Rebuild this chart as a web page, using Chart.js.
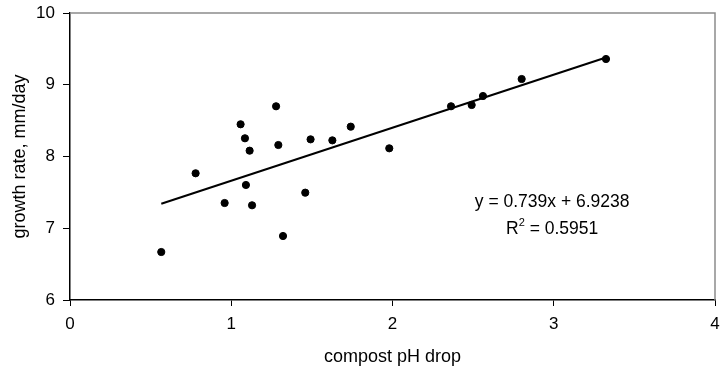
<!DOCTYPE html>
<html>
<head>
<meta charset="utf-8">
<script src="https://cdn.jsdelivr.net/npm/chart.js@4"></script>
<style>
  html, body { margin: 0; padding: 0; background: #fff; }
  #wrap { width: 721px; height: 374px; position: relative; }
</style>
</head>
<body>
<div id="wrap"><canvas id="phChart"></canvas></div>
<script>
// compost pH drop vs growth rate
const phDrop = [0.566, 0.779, 0.959, 1.058, 1.085, 1.091, 1.114, 1.129, 1.278, 1.292, 1.321,
                1.459, 1.492, 1.627, 1.741, 1.980, 2.363, 2.491, 2.561, 2.801, 3.324];
const growthRate = [6.669, 7.766, 7.352, 8.449, 8.254, 7.603, 8.081, 7.320, 8.700, 8.160, 6.892,
                    7.496, 8.239, 8.225, 8.416, 8.114, 8.700, 8.718, 8.843, 9.080, 9.359];

// linear trendline as printed on the chart
const trendSlope = 0.739;
const trendIntercept = 6.9238;
const trendR2 = '0.5951';

const xTicks = [0, 1, 2, 3, 4];
const yTicks = [6, 7, 8, 9, 10];

const fontFamily = '"Liberation Sans", Arial, sans-serif';

document.addEventListener('DOMContentLoaded', function() {
    const points = phDrop.map(function(x, i) { return { x: x, y: growthRate[i] }; });
    const xMin = Math.min.apply(null, phDrop);
    const xMax = Math.max.apply(null, phDrop);
    const trendPoints = [xMin, xMax].map(function(x) {
        return { x: x, y: trendSlope * x + trendIntercept };
    });

    // gray frame on top/right of the plot area, like the original
    const framePlugin = {
        id: 'frame',
        beforeDatasetsDraw: function(chart) {
            const a = chart.chartArea;
            const ctx = chart.ctx;
            ctx.save();
            ctx.strokeStyle = '#8c8c8c';
            ctx.lineWidth = 1.5;
            ctx.beginPath();
            ctx.moveTo(a.left, a.top);
            ctx.lineTo(a.right, a.top);
            ctx.lineTo(a.right, a.bottom);
            ctx.stroke();
            ctx.restore();
        }
    };

    // trendline equation label
    const equationPlugin = {
        id: 'equation',
        afterDatasetsDraw: function(chart) {
            const ctx = chart.ctx;
            const cx = chart.scales.x.getPixelForValue(2.99);
            const cy = chart.scales.y.getPixelForValue(7.37);
            ctx.save();
            ctx.fillStyle = '#000';
            ctx.textBaseline = 'middle';
            ctx.font = '17.5px ' + fontFamily;
            ctx.textAlign = 'center';
            ctx.fillText('y = ' + trendSlope + 'x + ' + trendIntercept, cx, cy);

            // R² line with a real superscript
            const y2 = cy + 27;
            const rW = ctx.measureText('R').width;
            const tail = ' = ' + trendR2;
            const tailW = ctx.measureText(tail).width;
            ctx.font = '11px ' + fontFamily;
            const supW = ctx.measureText('2').width;
            const total = rW + supW + tailW;
            let x0 = cx - total / 2;
            ctx.textAlign = 'left';
            ctx.font = '17.5px ' + fontFamily;
            ctx.fillText('R', x0, y2);
            ctx.font = '11px ' + fontFamily;
            ctx.fillText('2', x0 + rW, y2 - 6);
            ctx.font = '17.5px ' + fontFamily;
            ctx.fillText(tail, x0 + rW + supW, y2);
            ctx.restore();
        }
    };

    const ctx = document.getElementById('phChart').getContext('2d');
    new Chart(ctx, {
        type: 'scatter',
        data: {
            datasets: [{
                label: 'growth rate',
                data: points,
                backgroundColor: '#000',
                borderColor: '#000',
                pointRadius: 3.6,
                pointHoverRadius: 3.6,
                order: 1
            }, {
                label: 'trend',
                type: 'line',
                data: trendPoints,
                borderColor: '#000',
                borderWidth: 2,
                pointRadius: 0,
                fill: false,
                order: 2
            }]
        },
        options: {
            responsive: true,
            maintainAspectRatio: false,
            animation: false,
            events: [],
            layout: { padding: { top: 13, right: 6, left: 0, bottom: 0 } },
            plugins: {
                legend: { display: false },
                tooltip: { enabled: false }
            },
            scales: {
                x: {
                    type: 'linear',
                    min: 0,
                    max: 4,
                    afterBuildTicks: function(scale) {
                        scale.ticks = xTicks.map(function(v) { return { value: v }; });
                    },
                    afterFit: function(scale) {
                        scale.height = 74;
                        scale.paddingLeft = 0;
                        scale.paddingRight = 0;
                    },
                    grid: { drawOnChartArea: false, drawTicks: true, tickLength: 6, color: '#000', lineWidth: 1 },
                    border: { display: true, color: '#000', width: 1.5 },
                    ticks: {
                        color: '#000',
                        padding: 8,
                        font: { family: fontFamily, size: 17 },
                        maxRotation: 0
                    },
                    title: {
                        display: true,
                        text: 'compost pH drop',
                        color: '#000',
                        font: { family: fontFamily, size: 18 },
                        padding: { top: 0, bottom: 6 }
                    }
                },
                y: {
                    type: 'linear',
                    min: 6,
                    max: 10,
                    afterBuildTicks: function(scale) {
                        scale.ticks = yTicks.map(function(v) { return { value: v }; });
                    },
                    afterFit: function(scale) {
                        scale.width = 70;
                        scale.paddingTop = 0;
                        scale.paddingBottom = 0;
                    },
                    grid: { drawOnChartArea: false, drawTicks: true, tickLength: 7, color: '#000', lineWidth: 1 },
                    border: { display: true, color: '#000', width: 1.5 },
                    ticks: {
                        color: '#000',
                        padding: 8,
                        font: { family: fontFamily, size: 17 }
                    },
                    title: {
                        display: true,
                        text: 'growth rate, mm/day',
                        color: '#000',
                        font: { family: fontFamily, size: 18 },
                        padding: { top: 9, bottom: 0 }
                    }
                }
            }
        },
        plugins: [framePlugin, equationPlugin]
    });
});
</script>
</body>
</html>
